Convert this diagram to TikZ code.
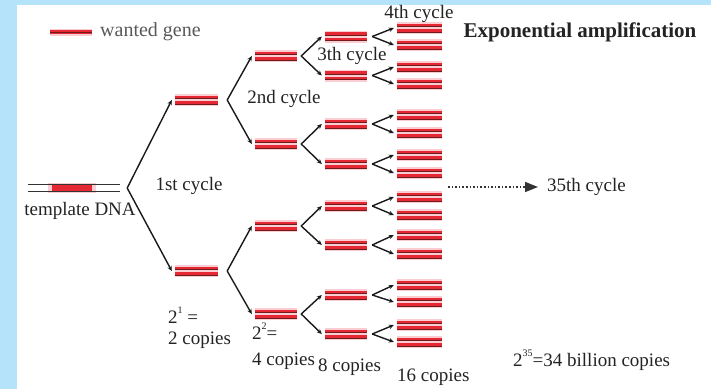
\documentclass[tikz,border=0pt]{standalone}
\usepackage{fontspec}
\setmainfont{Liberation Serif}
\usetikzlibrary{arrows.meta}
\definecolor{frameblue}{RGB}{181,228,250}
\definecolor{genered}{RGB}{230,40,52}
\definecolor{genedark}{RGB}{110,28,28}
\definecolor{genehalo}{RGB}{250,205,210}
\definecolor{txt}{RGB}{35,35,35}
\newcommand\genebar[4]{%
  \node[barnode, minimum width=#4bp] (#1) at (#2,#3) {};
  \draw[strand] ([yshift=2.7bp]#1.west) -- ([yshift=2.7bp]#1.east);
  \draw[strand] ([yshift=-2.7bp]#1.west) -- ([yshift=-2.7bp]#1.east);
  \draw[core] ([yshift=1.4bp]#1.west) -- ([yshift=1.4bp]#1.east);
  \draw[core] ([yshift=-4.0bp]#1.west) -- ([yshift=-4.0bp]#1.east);
}
\newcommand\forkto[4]{%
  \coordinate (v#1) at ([xshift=#4bp]#1.east);
  \draw[conn] (v#1) -- ([xshift=-3bp]#2.west);
  \draw[conn] (v#1) -- ([xshift=-3bp]#3.west);
}
\newcommand\sups[1]{\raisebox{0.55em}{\fontsize{10bp}{10bp}\selectfont #1}}
\begin{document}
\begin{tikzpicture}[x=1bp,y=-1bp,
  barnode/.style={inner sep=0pt, minimum height=12bp, fill=genehalo},
  strand/.style={genered, line width=3.2bp},
  core/.style={genedark, line width=0.8bp},
  conn/.style={line width=1.4bp, black!90, -{Stealth[length=5bp,width=4.5bp]}},
  lbl/.style={inner sep=0pt, text=txt, font=\fontsize{19bp}{21bp}\selectfont},
]
\fill[frameblue] (0,0) rectangle (711,389);
\fill[white] (17,5) rectangle (711,389);
\useasboundingbox (0,0) rectangle (711,389);

% legend
\node[inner sep=0pt, minimum width=42bp, minimum height=7bp, fill=genehalo] (leg) at (71,32) {};
\draw[strand] (leg.west) -- (leg.east);
\draw[core] ([yshift=-0.8bp]leg.west) -- ([yshift=-0.8bp]leg.east);
\node[lbl, anchor=west, text=black!65, font=\fontsize{20bp}{22bp}\selectfont] (legt) at (100,32) {wanted gene};

\node[inner sep=0pt, text=txt, font=\fontsize{21bp}{23bp}\selectfont\bfseries] (title) at (580,32) {Exponential amplification};

% template DNA
\node[inner sep=0pt, minimum width=92bp, minimum height=6bp] (tpl) at (74,188) {};
\fill[genehalo] (48,183) rectangle (96,193);
\fill[genered] (52,185) rectangle (92,191);
\draw[black!80, line width=1bp] (tpl.north west) -- (tpl.north east);
\draw[black!80, line width=1bp] (tpl.south west) -- (tpl.south east);
\node[lbl] (tpllab) at (80,211) {template DNA};

% generations
\foreach \y [count=\i] in {100,271} {\genebar{a\i}{196.5}{\y}{43}}
\foreach \y [count=\i] in {56,144,226,314} {\genebar{b\i}{276}{\y}{42}}
\foreach \y [count=\i] in {36.5,75.5,124,164,206,245,295,334} {\genebar{c\i}{346}{\y}{42}}
\foreach \y [count=\i] in {28,45,67,84,115,133,155,173,197,215,235,254,285,302,325,342} {\genebar{d\i}{419.5}{\y}{45}}

\forkto{tpl}{a1}{a2}{7}
\forkto{a1}{b1}{b2}{9}
\forkto{a2}{b3}{b4}{9}
\foreach \i in {1,...,4} {%
  \pgfmathtruncatemacro\j{2*\i-1}\pgfmathtruncatemacro\k{2*\i}%
  \forkto{b\i}{c\j}{c\k}{4}}
\foreach \i in {1,...,8} {%
  \pgfmathtruncatemacro\j{2*\i-1}\pgfmathtruncatemacro\k{2*\i}%
  \forkto{c\i}{d\j}{d\k}{5}}

% labels
\node[lbl] (l4) at (419,14) {4th cycle};
\node[lbl] (l3) at (352,56) {3th cycle};
\node[lbl] (l2) at (284,99) {2nd cycle};
\node[lbl] (l1) at (189,186) {1st cycle};
\node[lbl, anchor=west] (p1) at (168,315) {2\sups{1} =};
\node[lbl, anchor=west] (c1) at (168,340) {2 copies};
\node[lbl, anchor=west] (p2) at (252,331) {2\sups{2}=};
\node[lbl, anchor=west] (c2) at (252,361) {4 copies};
\node[lbl, anchor=west] (c3) at (318,367) {8 copies};
\node[lbl, anchor=west] (c4) at (397,377) {16 copies};
\node[lbl, anchor=west] (p35) at (513,360) {2\sups{35}=34 billion copies};

% 35th cycle arrow
\node[lbl, anchor=west] (l35) at (547,187) {35th cycle};
\coordinate (dstart) at (448,187);
\draw[dotted, line width=1.6bp, black!80, -{Triangle[length=13bp,width=10bp]}] (dstart) -- ([xshift=-9bp]l35.west);
\end{tikzpicture}
\end{document}
